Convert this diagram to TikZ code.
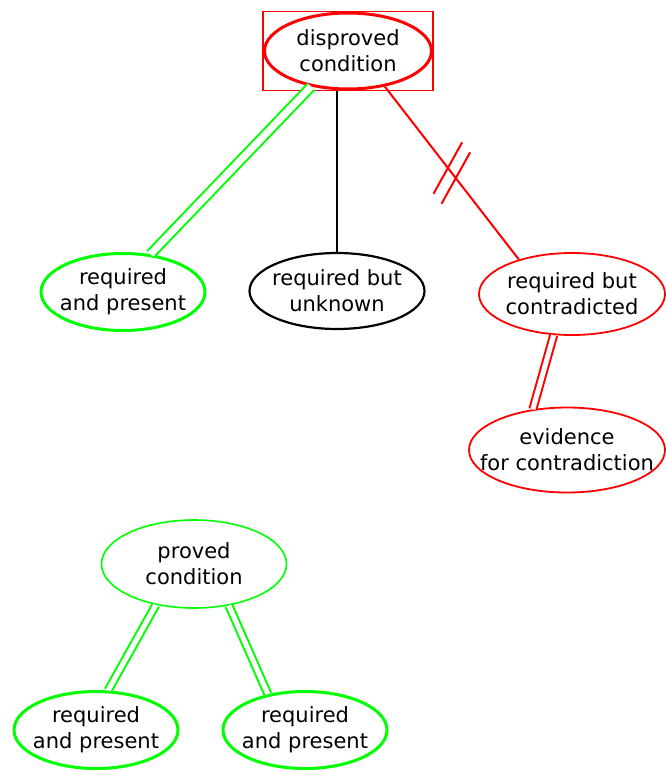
\documentclass[tikz,border=0pt]{standalone}
\usepackage{fontspec}
\setmainfont{DejaVu Sans}
\usepackage{tikz}
\usetikzlibrary{shapes.geometric}
\colorlet{okcol}{green}
\colorlet{badcol}{red}

\begin{document}
\begin{tikzpicture}[
x=1pt, y=-1pt,
Cond/.style={ellipse, align=center, inner xsep=-50pt, inner ysep=0pt,
  font=\fontsize{21}{26}\selectfont},
OkCond/.style={Cond, draw=okcol, line width=3pt, minimum width=164pt, minimum height=77pt},
BadCond/.style={Cond, draw=badcol, line width=1.8pt},
Link/.style={line width=2pt},
Twin/.style={line width=2pt, double=white, double distance=5pt}
]
\useasboundingbox (0,0) rectangle (665,771);

% the disproved condition and what it needs
\node[Cond, draw=badcol, line width=3pt, minimum width=167pt, minimum height=76pt]
  (dis) at (348,51) {disproved\\condition};
\draw[badcol, line width=1.8pt] (dis.west |- dis.north) rectangle (dis.east |- dis.south);

\node[OkCond] (lt) at (123,292) {required\\and present};
\node[Cond, draw=black, line width=2.2pt, minimum width=175pt, minimum height=76pt]
  (unk) at (337,291) {required but\\unknown};
\node[BadCond, minimum width=186pt, minimum height=82pt] (con) at (572,294) {required but\\contradicted};
\node[BadCond, minimum width=196pt, minimum height=85pt] (evi) at (567,450) {evidence\\for contradiction};

\draw[Twin, okcol, double distance=7pt] (dis.-136) -- (lt.54);
\draw[Link, black] (unk.north |- dis.south) -- (unk.north);
\draw[Link, badcol] (dis.-44) -- coordinate[pos=.5] (cut) (con.147);
% the two bars across the red link
\draw[Link, badcol] (cut) ++(-18.3,20.7) -- ++(28.6,-51.4)
                    (cut) ++(-10.3,30.7) -- ++(28.6,-51.4);
\draw[Twin, badcol] (con.-114) -- (evi.130);

% the proved condition
\node[Cond, draw=okcol, line width=1.6pt, minimum width=185pt, minimum height=88pt]
  (pro) at (194,564) {proved\\condition};
\node[OkCond] (bl) at (96,730) {required\\and present};
\node[OkCond] (br) at (305,730) {required\\and present};

\draw[Twin, okcol] (pro.-133) -- (bl.73);
\draw[Twin, okcol] (pro.-50) -- (br.136);

\end{tikzpicture}
\end{document}
